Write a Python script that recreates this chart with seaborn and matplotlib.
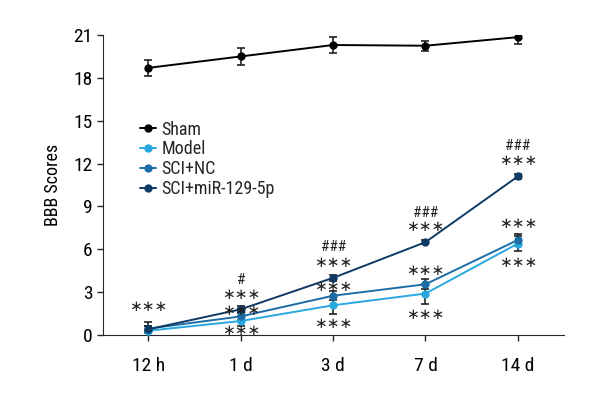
import pandas as pd
import matplotlib.pyplot as plt
import seaborn as sns
from matplotlib import font_manager

# data
times = ["12 h", "1 d", "3 d", "7 d", "14 d"]
groups = ["Sham", "Model", "SCI+NC", "SCI+miR-129-5p"]
sham = [18.7, 19.5, 20.3, 20.25, 20.85]
model = [0.3, 0.98, 2.08, 2.9, 6.4]
sci_nc = [0.45, 1.3, 2.75, 3.55, 6.65]
sci_mir = [0.4, 1.8, 4.0, 6.5, 11.1]
sham_err = [0.55, 0.6, 0.55, 0.35, 0.5]
model_err = [0.6, 0.35, 0.6, 0.7, 0.5]
sci_nc_err = [0.2, 0.25, 0.3, 0.35, 0.4]
sci_mir_err = [0.25, 0.2, 0.2, 0.15, 0.15]
colors = ["#000000", "#29a8e0", "#1c6da6", "#0e3a64"]

# significance marks: (time index, y value, text)
marks_x = [0, 1, 1, 1, 1, 2, 2, 2, 2, 3, 3, 3, 3, 4, 4, 4, 4]
marks_y = [2.0, 3.85, 2.85, 1.7, 0.3, 6.15, 5.1, 3.4, 0.8, 8.55, 7.6, 4.5, 1.45, 13.25, 12.2, 7.8, 5.1]
marks_txt = ["***", "#", "***", "***", "***", "###", "***", "***", "***",
             "###", "***", "***", "***", "###", "***", "***", "***"]

means = [sham, model, sci_nc, sci_mir]
errs = [sham_err, model_err, sci_nc_err, sci_mir_err]
df = pd.DataFrame({
    "time": times * 4,
    "x": list(range(len(times))) * 4,
    "group": [g for g in groups for _ in times],
    "score": [v for m in means for v in m],
    "err": [e for es in errs for e in es],
})

sns.set_style("ticks")
# pick a narrow font if one is around
installed = {f.name for f in font_manager.fontManager.ttflist}
narrow = [n for n in ["Liberation Sans Narrow", "DejaVu Sans Condensed", "Roboto Condensed",
                      "Open Sans Condensed"] if n in installed]
plt.rcParams["font.family"] = narrow + ["DejaVu Sans"]
if not narrow:
    plt.rcParams["font.stretch"] = "condensed"

fig = plt.figure(figsize=(6, 4), dpi=100)
ax = fig.add_axes([0.172, 0.1625, 0.768, 0.75])

for g, c in zip(groups, colors):
    sub = df[df["group"] == g]
    ax.errorbar(sub["x"], sub["score"], yerr=sub["err"], fmt="none",
                ecolor="#222222", elinewidth=1.2, capsize=3, capthick=1.2, zorder=2)

sns.lineplot(data=df, x="x", y="score", hue="group", palette=colors,
             marker="o", markersize=6, markeredgewidth=0, linewidth=1.4,
             ax=ax, zorder=3)

for xi, yi, t in zip(marks_x, marks_y, marks_txt):
    if t.startswith("*"):
        ax.text(xi, yi, "\u2217" * len(t), ha="center", va="center",
                fontsize=11, family="DejaVu Sans", color="#222222")
    else:
        ax.text(xi, yi, t, ha="center", va="center", fontsize=11, color="#222222")

ax.set_xlim(-0.49, 4.5)
ax.set_ylim(0, 21)
ax.set_xticks(range(len(times)))
ax.set_xticklabels(times)
ax.set_yticks(range(0, 22, 3))
ax.set_xlabel("")
ax.set_ylabel("BBB Scores", fontsize=13, labelpad=8, color="black")
ax.tick_params(labelsize=14, length=4, width=1, labelcolor="black")
ax.tick_params(axis="x", pad=12)
sns.despine(ax=ax)

leg = ax.legend(title=None, loc="upper left", bbox_to_anchor=(0.06, 0.745),
                frameon=False, fontsize=13, handlelength=0.9,
                handletextpad=0.3, labelspacing=0.1, borderpad=0)

fig.savefig("out.png", dpi=100)
